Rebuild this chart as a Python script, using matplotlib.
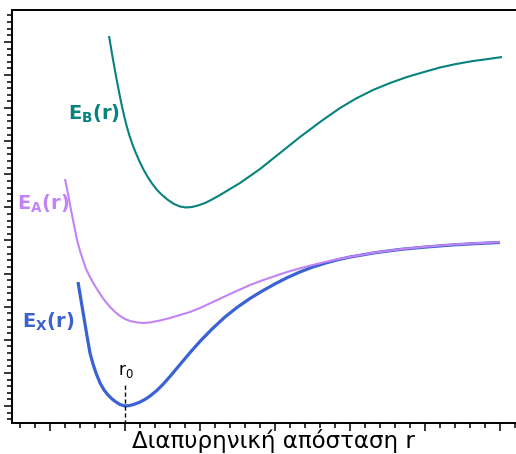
import numpy as np
import matplotlib
matplotlib.use("Agg")
import matplotlib.pyplot as plt
from matplotlib.ticker import MultipleLocator

# potential energy curves (arbitrary units), r in units of the major tick spacing
r_X = [0.373, 0.413, 0.453, 0.493, 0.533, 0.573, 0.613, 0.667, 0.72, 0.773,
       0.827, 0.88, 0.933, 1.0, 1.067, 1.133, 1.2, 1.267, 1.333, 1.427, 1.507,
       1.6, 1.733, 1.867, 2.0, 2.16, 2.333, 2.493, 2.667, 2.827, 3.0, 3.16,
       3.333, 3.493, 3.667, 3.827, 4.0, 4.333, 4.667, 5.0, 5.333, 5.667, 6.0]
E_X = [3.746, 3.202, 2.659, 2.115, 1.601, 1.269, 0.997, 0.695, 0.483, 0.332,
       0.211, 0.121, 0.045, 0.0, 0.015, 0.060, 0.120, 0.200, 0.300, 0.475,
       0.655, 0.893, 1.253, 1.613, 1.953, 2.325, 2.689, 2.977, 3.250, 3.470,
       3.690, 3.875, 4.050, 4.190, 4.315, 4.415, 4.500, 4.630, 4.730, 4.800,
       4.860, 4.905, 4.940]

r_A = [0.2, 0.24, 0.28, 0.32, 0.36, 0.4, 0.44, 0.48, 0.533, 0.6, 0.667, 0.733,
       0.8, 0.867, 0.933, 1.0, 1.067, 1.16, 1.24, 1.333, 1.467, 1.6, 1.733,
       1.867, 2.0, 2.2, 2.4, 2.667, 2.827, 3.0, 3.16, 3.333, 3.493, 3.667,
       3.827, 4.0, 4.333, 4.667, 5.0, 5.333, 5.667, 6.0]
E_A = [6.858, 6.405, 5.921, 5.468, 5.015, 4.683, 4.411, 4.139, 3.897, 3.625,
       3.384, 3.172, 2.991, 2.840, 2.719, 2.628, 2.568, 2.523, 2.508, 2.523,
       2.583, 2.659, 2.749, 2.840, 2.961, 3.172, 3.384, 3.656, 3.792, 3.927,
       4.048, 4.160, 4.255, 4.350, 4.430, 4.505, 4.635, 4.735, 4.810, 4.870,
       4.915, 4.950]

r_B = [0.787, 0.827, 0.867, 0.907, 0.947, 0.987, 1.027, 1.067, 1.107, 1.147,
       1.2, 1.253, 1.307, 1.36, 1.427, 1.493, 1.573, 1.653, 1.733, 1.813,
       1.893, 1.973, 2.067, 2.16, 2.267, 2.4, 2.533, 2.667, 2.8, 2.933, 3.067,
       3.2, 3.333, 3.467, 3.6, 3.733, 3.867, 4.08, 4.307, 4.533, 4.76, 4.987,
       5.2, 5.413, 5.64, 5.84, 6.027]
E_B = [11.178, 10.634, 10.121, 9.637, 9.184, 8.776, 8.414, 8.112, 7.855, 7.628,
       7.356, 7.115, 6.903, 6.722, 6.526, 6.375, 6.224, 6.103, 6.027, 5.997,
       6.012, 6.057, 6.133, 6.239, 6.375, 6.556, 6.737, 6.949, 7.160, 7.402,
       7.644, 7.885, 8.127, 8.353, 8.580, 8.792, 9.003, 9.290, 9.547, 9.758,
       9.940, 10.091, 10.227, 10.332, 10.423, 10.483, 10.544]

r0 = 1.0

C_X = "#3a62d2"
C_A = "#c283f7"
C_B = "#06827f"

fig = plt.figure(figsize=(5.16, 4.54), dpi=100)
ax = fig.add_axes([12 / 516, 31 / 454, 504 / 516, 413 / 454])

ax.plot(r_X, E_X, color=C_X, lw=2.3, solid_capstyle="butt")
ax.plot(r_A, E_A, color=C_A, lw=1.5, solid_capstyle="butt")
ax.plot(r_B, E_B, color=C_B, lw=1.5, solid_capstyle="butt")

# equilibrium distance of the ground state
ax.plot([r0, r0], [-0.55, 0.63], color="black", lw=1.0, ls=(0, (3, 2)))
ax.text(r0 + 0.01, 0.94, r"$\mathregular{r_0}$", fontsize=12, ha="center",
        va="baseline")

lab_kw = dict(fontsize=14, fontweight="bold", ha="center", va="baseline")
ax.text(0.59, 8.64, r"$\mathbf{E_B(r)}$", color=C_B, **lab_kw)
ax.text(-0.09, 5.92, r"$\mathbf{E_A(r)}$", color=C_A, **lab_kw)
ax.text(-0.03, 2.36, r"$\mathbf{E_X(r)}$", color=C_X, **lab_kw)

ax.set_xlim(-0.507, 6.213)
ax.set_ylim(-0.514, 11.964)
ax.xaxis.set_major_locator(MultipleLocator(1))
ax.xaxis.set_minor_locator(MultipleLocator(0.2))
ax.yaxis.set_major_locator(MultipleLocator(1))
ax.yaxis.set_minor_locator(MultipleLocator(0.2))
ax.tick_params(which="both", direction="out", labelbottom=False,
               labelleft=False, width=1.1, color="black")
ax.tick_params(which="major", length=6)
ax.tick_params(which="minor", length=3.5)
for side in ("left", "bottom", "top"):
    ax.spines[side].set_linewidth(1.4)
ax.spines["right"].set_visible(False)

fig.text(273.5 / 516, 6 / 454, "Διαπυρηνική απόσταση r", fontsize=16.5,
         ha="center", va="baseline")

fig.savefig("out.png", dpi=100)
